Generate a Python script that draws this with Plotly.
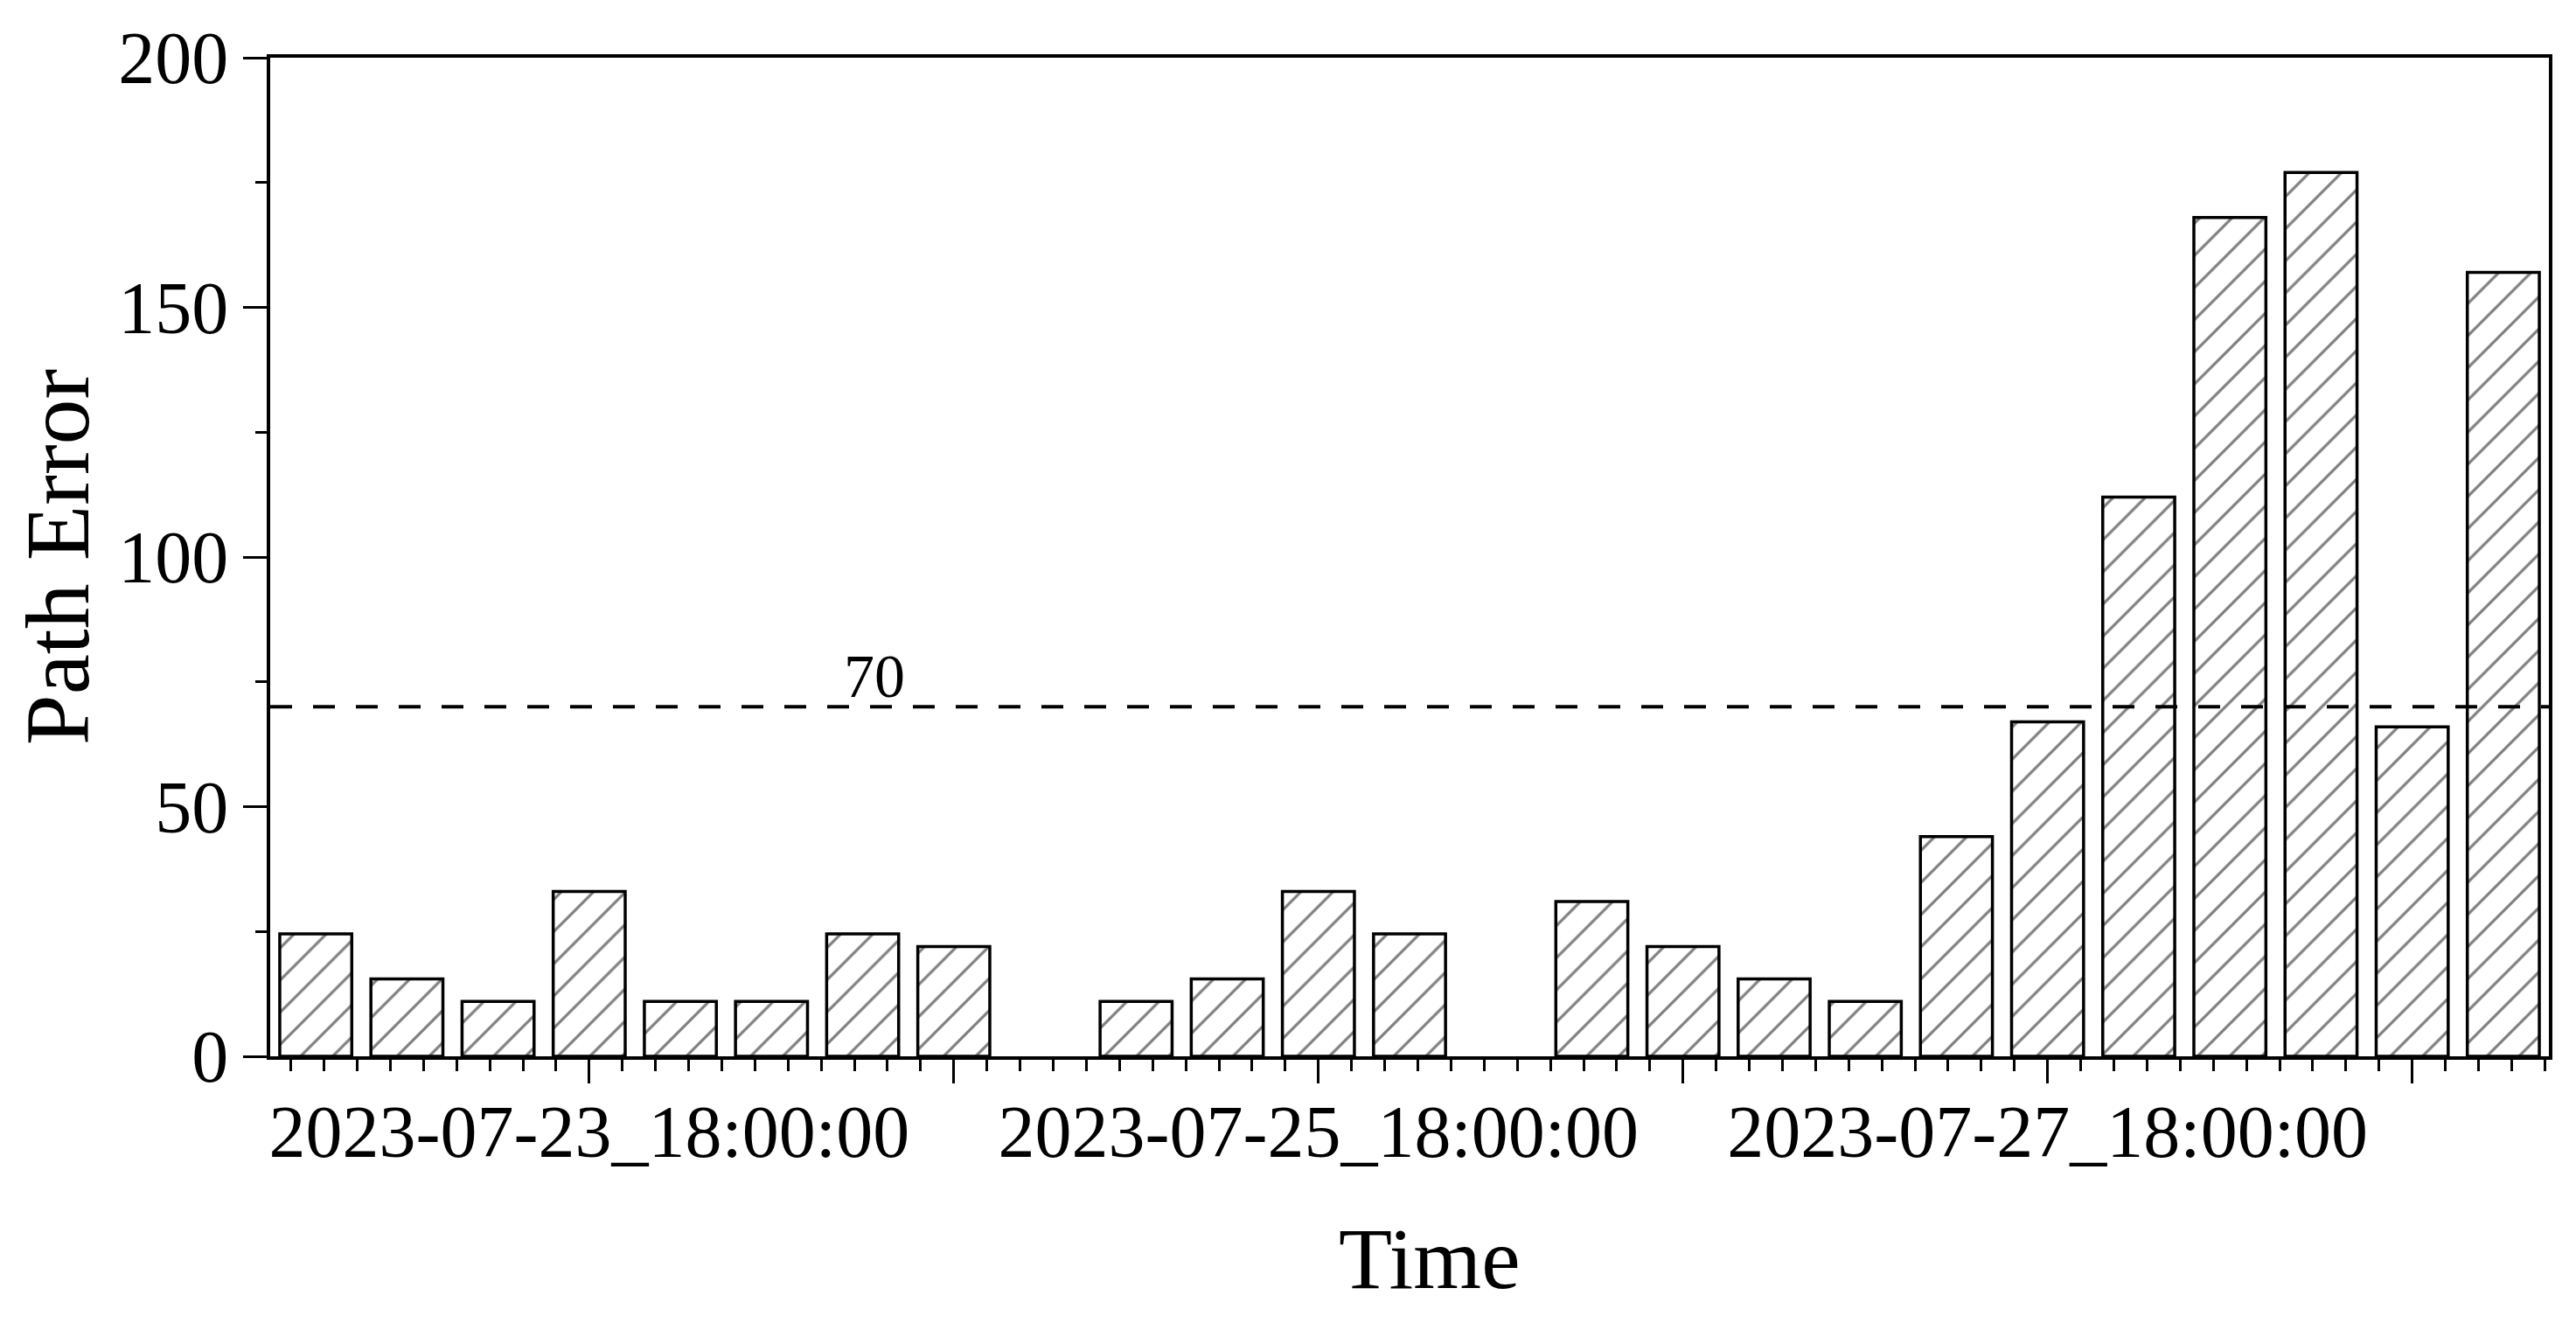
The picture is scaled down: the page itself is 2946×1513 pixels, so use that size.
import plotly.graph_objects as go

# six-hourly path error, gaps where no value exists
times = [
    '2023-07-23 00:00:00', '2023-07-23 06:00:00', '2023-07-23 12:00:00', '2023-07-23 18:00:00',
    '2023-07-24 00:00:00', '2023-07-24 06:00:00', '2023-07-24 12:00:00', '2023-07-24 18:00:00',
    '2023-07-25 06:00:00', '2023-07-25 12:00:00', '2023-07-25 18:00:00',
    '2023-07-26 00:00:00', '2023-07-26 12:00:00', '2023-07-26 18:00:00',
    '2023-07-27 00:00:00', '2023-07-27 06:00:00', '2023-07-27 12:00:00', '2023-07-27 18:00:00',
    '2023-07-28 00:00:00', '2023-07-28 06:00:00', '2023-07-28 12:00:00', '2023-07-28 18:00:00',
    '2023-07-29 00:00:00',
]
path_error = [
    24.5, 15.5, 11, 33,
    11, 11, 24.5, 22,
    11, 15.5, 33,
    24.5, 31, 22,
    15.5, 11, 44, 67,
    112, 168, 177, 66,
    157,
]
threshold = 70

tick_vals = ['2023-07-23 18:00:00', '2023-07-24 18:00:00', '2023-07-25 18:00:00',
             '2023-07-26 18:00:00', '2023-07-27 18:00:00', '2023-07-28 18:00:00']
tick_text = ['2023-07-23_18:00:00', '', '2023-07-25_18:00:00',
             '', '2023-07-27_18:00:00', '']
x_range = ['2023-07-22 21:00:00', '2023-07-29 03:00:00']

FONT = 'Liberation Serif'

fig = go.Figure()
fig.add_trace(go.Bar(
    x=times, y=path_error,
    marker=dict(color='white', line=dict(color='black', width=3.5),
                pattern=dict(shape='/', fgcolor='black', bgcolor='white',
                             size=26, solidity=0.12, fillmode='overlay')),
))

# threshold line with its label
fig.add_shape(type='line', xref='paper', x0=0, x1=1, yref='y', y0=threshold, y1=threshold,
              line=dict(color='black', width=4, dash='25px,24px'))
fig.add_annotation(xref='paper', x=0.265, xanchor='center', yref='y', y=threshold, yanchor='bottom',
                   text=str(threshold), showarrow=False, yshift=-6,
                   font=dict(family=FONT, size=70, color='black'))

# x title sits slightly right of centre in the original, so place it by hand
fig.add_annotation(xref='paper', x=0.509, xanchor='center', yref='paper', y=0, yanchor='middle',
                   yshift=-231, text='Time', showarrow=False,
                   font=dict(family=FONT, size=100, color='black'))

# page body adds 8px, so the figure is a bit smaller than the window
fig.update_layout(
    width=2938, height=1505,
    margin=dict(l=301, r=31, t=55, b=305),
    paper_bgcolor='white', plot_bgcolor='white',
    bargap=0.21, showlegend=False,
    font=dict(family=FONT, color='black'),
)
fig.update_xaxes(
    type='date', range=x_range,
    tickmode='array', tickvals=tick_vals, ticktext=tick_text,
    ticks='outside', ticklen=27, tickwidth=3, tickcolor='black',
    minor=dict(tickmode='linear', tick0='2023-07-23 18:00:00', dtick=86400000 / 11,
               ticks='outside', ticklen=13, tickwidth=3, tickcolor='black', showgrid=False),
    showline=True, linewidth=4, linecolor='black', mirror=True,
    showgrid=False, zeroline=False,
    tickfont=dict(family=FONT, size=84, color='black'),
    ticklabelstandoff=-17,
)
fig.update_yaxes(
    range=[0, 200], dtick=50, tick0=0,
    ticks='outside', ticklen=27, tickwidth=3, tickcolor='black',
    minor=dict(dtick=25, ticks='outside', ticklen=13, tickwidth=3, tickcolor='black', showgrid=False),
    showline=True, linewidth=4, linecolor='black', mirror=True,
    showgrid=False, zeroline=False,
    tickfont=dict(family=FONT, size=84, color='black'),
    title=dict(text='Path Error', font=dict(family=FONT, size=104, color='black'), standoff=4),
)

fig.write_html("out.html")
